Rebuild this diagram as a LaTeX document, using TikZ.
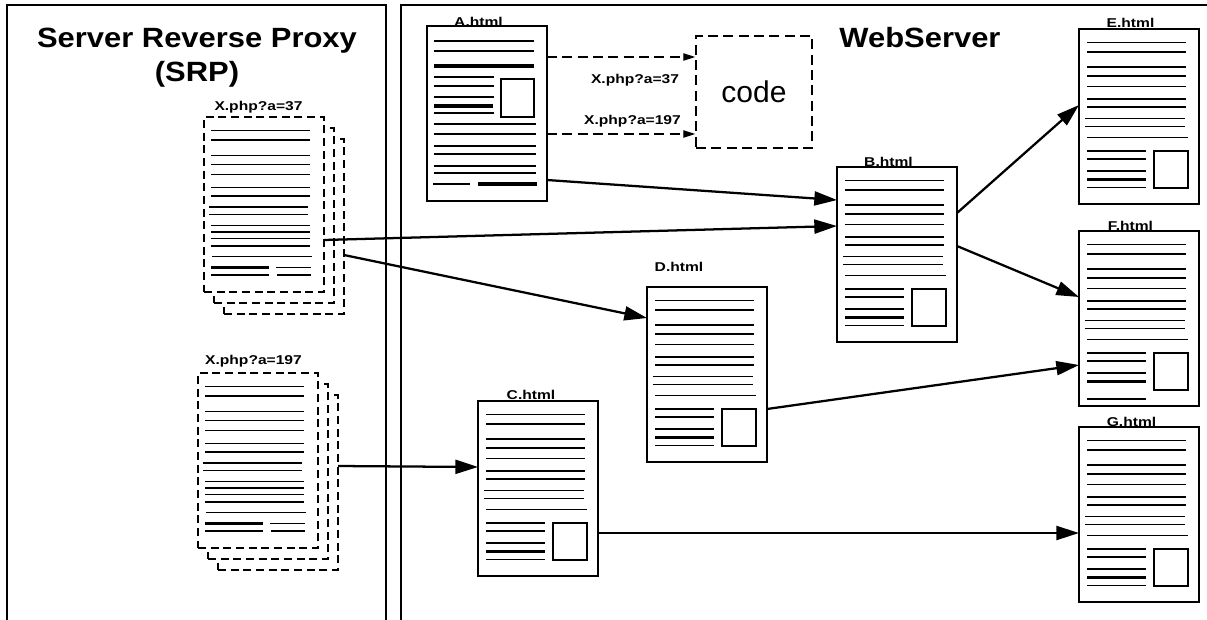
\documentclass[tikz,border=0pt]{standalone}
\usepackage{fontspec}
\setmainfont{Liberation Sans}
\usepackage{graphicx}
\usetikzlibrary{arrows.meta}

\tikzset{
  panel/.style={line width=1.2pt},
  pagebox/.style={draw, fill=white, line width=1.1pt, inner sep=0pt, outer sep=0pt,
    minimum width=90pt, minimum height=131.25pt, anchor=north west},
  sheet/.style={pagebox, dash pattern=on 6pt off 3.5pt},
  txt/.style={line width=0.95pt},
  heavy/.style={line width=2.6pt},
  inset/.style={line width=1pt},
  flow/.style={line width=1.7pt, -{Triangle[length=17pt,width=10.5pt]}},
  call/.style={line width=1pt, dash pattern=on 7.5pt off 4pt,
    -{Triangle[length=9pt,width=5.5pt]}},
  pagelabel/.style={font=\bfseries\fontsize{11.7}{13}\selectfont, inner sep=0pt, anchor=base},
  heading/.style={font=\bfseries\fontsize{23.2}{26}\selectfont, inner sep=0pt, anchor=base},
  codebox/.style={draw, line width=1.1pt, dash pattern=on 7.5pt off 4pt,
    minimum width=87pt, minimum height=84pt, inner sep=0pt,
    font=\fontsize{22.5}{24}\selectfont},
}

% A generated page: ten text lines, a short block with an image, 120 x 175 px
\newcommand\stdpage[4][158.5]{%
  \node[pagebox] (#2) at (#3,#4) {};
  \begin{scope}[shift={(#3,#4)}]
    \foreach \yy in {13.5,23,38,47,57.5,70,78}
      \draw[txt] (8,\yy) -- (107,\yy);
    \foreach \yy in {89.5,97.5}
      \draw[txt] (6,\yy) -- (106,\yy);
    \draw[txt] (8,108.5) -- (109,108.5);
    \foreach \yy in {122,130,142,#1}
      \draw[txt] (8,\yy) -- (67,\yy);
    \draw[heavy] (8,150.5) -- (67,150.5);
    \draw[inset] (75,122) rectangle (109,159);
  \end{scope}}

% A cached copy kept three deep by the proxy
\newcommand\stackpage[3]{%
  \node[sheet] (#1c) at (#2+20,#3+22) {};
  \node[sheet] (#1b) at (#2+10,#3+11) {};
  \node[sheet] (#1) at (#2,#3) {};
  \begin{scope}[shift={(#2,#3)}]
    \foreach \yy in {13.5,23,38.5,47.5,57.5,70.5,79,108.5,115,121.5,129}
      \draw[txt] (7,\yy) -- (106,\yy);
    \foreach \yy in {90,97.5}
      \draw[txt] (5,\yy) -- (104,\yy);
    \draw[txt] (8,139.5) -- (108,139.5);
    \draw[heavy] (7,150.5) -- (65,150.5);
    \draw[txt] (72,150.5) -- (107,150.5);
    \draw[txt] (7,158) -- (65,158);
    \draw[txt] (73,158) -- (107,158);
  \end{scope}}

\begin{document}
\begin{tikzpicture}[x=0.75pt, y=-0.75pt]
  \useasboundingbox (0,0) rectangle (1207,619);
  \clip (0,0) rectangle (1207,619);

  % the two hosts
  \draw[panel] (7,630) -- (7,5) -- (386,5) -- (386,630);
  \draw[panel] (401,630) -- (401,5) -- (1215,5);
  \node[heading] (srp1) at (197,47) {\scalebox{1}[0.9]{Server Reverse Proxy}};
  \node[heading] (srp2) at (197,81) {\scalebox{1}[0.9]{(SRP)}};
  \node[heading] (ws) at (920,47) {\scalebox{1}[0.9]{WebServer}};

  % proxy cache
  \stackpage{X37}{204}{117}
  \stackpage{X197}{198}{373}
  \node[pagelabel] (X37l) at (258.5,110.5) {\scalebox{1}[0.82]{X.php?a=37}};
  \node[pagelabel] (X197l) at (253.5,364) {\scalebox{1}[0.82]{X.php?a=197}};

  % page A with its two script links
  \node[pagebox] (A) at (427,26) {};
  \begin{scope}[shift={(427,26)}]
    \foreach \yy in {15,25}
      \draw[txt] (7,\yy) -- (107,\yy);
    \draw[heavy] (7,40) -- (107,40);
    \foreach \yy in {51,60,71,87}
      \draw[txt] (7,\yy) -- (67,\yy);
    \draw[heavy] (7,80) -- (66,80);
    \draw[inset] (74,53) rectangle (107,91);
    \foreach \yy in {98,108,120,128,140,147}
      \draw[txt] (7,\yy) -- (109,\yy);
    \draw[txt] (6,158) -- (43,158);
    \draw[heavy] (51,158) -- (110,158);
  \end{scope}
  \node[pagelabel] (Al) at (478.5,26) {\scalebox{1}[0.82]{A.html}};

  \node[codebox] (code) at (754,92) {code};

  % the other pages on the web server
  \stdpage{B}{837}{167}
  \stdpage{C}{478}{401}
  \stdpage{D}{647}{287}
  \stdpage{E}{1079}{29}
  \stdpage[168]{F}{1079}{231}
  \stdpage{G}{1079}{427}
  \node[pagelabel] (Bl) at (888.5,166) {\scalebox{1}[0.82]{B.html}};
  \node[pagelabel] (Cl) at (531,399) {\scalebox{1}[0.82]{C.html}};
  \node[pagelabel] (Dl) at (679,271) {\scalebox{1}[0.82]{D.html}};
  \node[pagelabel] (El) at (1130.5,27) {\scalebox{1}[0.82]{E.html}};
  \node[pagelabel] (Fl) at (1130.5,230.5) {\scalebox{1}[0.82]{F.html}};
  \node[pagelabel] (Gl) at (1131.5,426.5) {\scalebox{1}[0.82]{G.html}};

  % script calls
  \draw[call] (A.east |- 0,57) -- (code.west |- 0,57);
  \draw[call] (A.east |- 0,134) -- (code.west |- 0,134);
  \node[pagelabel] (c37) at (635,83) {\scalebox{1}[0.82]{X.php?a=37}};
  \node[pagelabel] (c197) at (632.5,124) {\scalebox{1}[0.82]{X.php?a=197}};

  % links
  \draw[flow] (A.east |- 0,180) -- (B.west |- 0,200);
  \draw[flow] (X37.east |- 0,240) -- (B.west |- 0,226);
  \draw[flow] (X37c.east |- 0,255) -- (D.west |- 0,318);
  \draw[flow] (X197c.east |- 0,466) -- (C.west |- 0,467);
  \draw[flow] (B.east |- 0,213) -- (E.west |- 0,105);
  \draw[flow] (B.east |- 0,246) -- (F.west |- 0,297);
  \draw[flow] (D.east |- 0,409) -- (F.west |- 0,365);
  \draw[flow] (C.east |- 0,533) -- (G.west |- 0,533);
\end{tikzpicture}
\end{document}
